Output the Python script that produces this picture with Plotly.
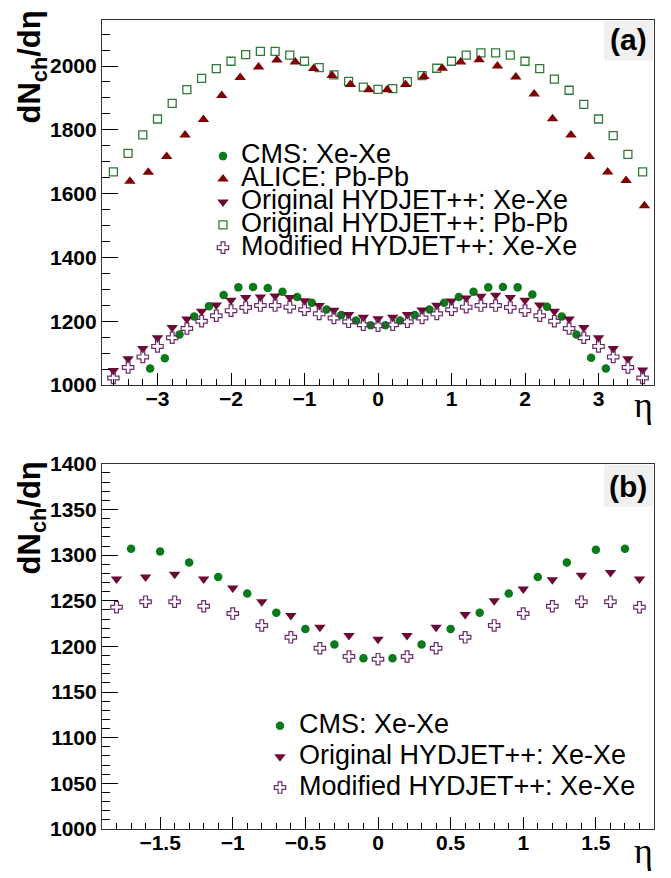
import plotly.graph_objects as go

# ---------------- data ----------------
eta_cms = [-3.1, -2.9, -2.7, -2.5, -2.3, -2.1, -1.9, -1.7, -1.5, -1.3, -1.1, -0.9, -0.7, -0.5, -0.3, -0.1,
           0.1, 0.3, 0.5, 0.7, 0.9, 1.1, 1.3, 1.5, 1.7, 1.9, 2.1, 2.3, 2.5, 2.7, 2.9, 3.1]
cms_xexe = [1052, 1084, 1158, 1215, 1247, 1282, 1306, 1307, 1304, 1292, 1276, 1258, 1237, 1219, 1202, 1187,
            1187, 1202, 1219, 1237, 1258, 1276, 1292, 1306, 1307, 1306, 1284, 1245, 1215, 1158, 1085, 1052]

eta_alice = [-3.375, -3.125, -2.875, -2.625, -2.375, -2.125, -1.875, -1.625, -1.375, -1.125, -0.875, -0.625,
             -0.375, -0.125, 0.125, 0.375, 0.625, 0.875, 1.125, 1.375, 1.625, 1.875, 2.125, 2.375, 2.625,
             2.875, 3.125, 3.375, 3.625]
alice_pbpb = [1639, 1667, 1716, 1784, 1832, 1908, 1964, 1997, 2019, 2013, 1992, 1970, 1942, 1926, 1926, 1942,
              1967, 1993, 2013, 2020, 2000, 1966, 1912, 1835, 1784, 1716, 1668, 1641, 1562]

eta_hyd = [-3.6, -3.4, -3.2, -3.0, -2.8, -2.6, -2.4, -2.2, -2.0, -1.8, -1.6, -1.4, -1.2, -1.0, -0.8, -0.6,
           -0.4, -0.2, 0.0, 0.2, 0.4, 0.6, 0.8, 1.0, 1.2, 1.4, 1.6, 1.8, 2.0, 2.2, 2.4, 2.6, 2.8, 3.0,
           3.2, 3.4, 3.6]
hyd_orig_pbpb = [1668, 1726, 1784, 1834, 1883, 1926, 1961, 1992, 2015, 2036, 2046, 2046, 2034, 2015, 1995, 1972,
                 1952, 1934, 1927, 1929, 1951, 1970, 1993, 2015, 2034, 2041, 2041, 2034, 2015, 1992, 1959, 1924,
                 1880, 1834, 1782, 1723, 1668]
hyd_orig_xexe = [1045, 1082, 1114, 1148, 1180, 1207, 1231, 1251, 1266, 1274, 1276, 1279, 1274, 1264, 1249, 1234,
                 1221, 1212, 1208, 1212, 1221, 1235, 1250, 1263, 1273, 1278, 1281, 1274, 1266, 1251, 1231, 1207,
                 1180, 1148, 1114, 1082, 1047]
hyd_mod_xexe = [1022, 1055, 1088, 1121, 1148, 1177, 1200, 1217, 1233, 1243, 1249, 1249, 1244, 1236, 1223, 1210,
                1198, 1189, 1186, 1189, 1198, 1210, 1223, 1236, 1244, 1249, 1249, 1243, 1233, 1217, 1200, 1177,
                1148, 1121, 1088, 1055, 1022]

labels_top = ["CMS: Xe-Xe", "ALICE: Pb-Pb", "Original HYDJET++: Xe-Xe",
              "Original HYDJET++: Pb-Pb", "Modified HYDJET++: Xe-Xe"]
labels_bot = ["CMS: Xe-Xe", "Original HYDJET++: Xe-Xe", "Modified HYDJET++: Xe-Xe"]

# ---------------- styles ----------------
W, H = 671, 878
C_CMS = "#0a7a1a"
C_ALICE = "#7f0000"
C_OX = "#6b0a36"
C_OP = "#2f7a3a"
C_MX = "#6a2a6a"

sty = {
    "cms": dict(symbol="circle", size=8.5, color=C_CMS, line=dict(width=0)),
    "alice": dict(symbol="triangle-up", size=10, color=C_ALICE, line=dict(width=0)),
    "ox": dict(symbol="triangle-down", size=10, color=C_OX, line=dict(width=0)),
    "op": dict(symbol="square-open", size=8, color=C_OP, line=dict(width=1.3, color=C_OP)),
    "mx": dict(symbol="cross-open", size=9.5, color=C_MX, line=dict(width=1.2, color=C_MX)),
}

def px2paper_x(px):
    return px / W

def px2paper_y(py):
    return 1 - py / H

fig = go.Figure()

def add(x, y, key, xa, ya, bound=None):
    if bound is not None:
        pts = [(a, b) for a, b in zip(x, y) if abs(a) < bound]
        x = [p[0] for p in pts]
        y = [p[1] for p in pts]
    fig.add_trace(go.Scatter(x=x, y=y, mode="markers", marker=sty[key], xaxis=xa, yaxis=ya,
                             showlegend=False, hoverinfo="skip"))

# top panel
add(eta_hyd, hyd_orig_pbpb, "op", "x", "y")
add(eta_alice, alice_pbpb, "alice", "x", "y")
add(eta_cms, cms_xexe, "cms", "x", "y")
add(eta_hyd, hyd_orig_xexe, "ox", "x", "y")
add(eta_hyd, hyd_mod_xexe, "mx", "x", "y")
# bottom panel
add(eta_cms, cms_xexe, "cms", "x2", "y2", bound=1.85)
add(eta_hyd, hyd_orig_xexe, "ox", "x2", "y2", bound=1.85)
add(eta_hyd, hyd_mod_xexe, "mx", "x2", "y2", bound=1.85)

# legend keys on an auxiliary pixel-space axis
leg_top_x, leg_top_y0, leg_top_dy = 223, 148, 23.5
leg_bot_x, leg_bot_y0, leg_bot_dy = 280, 733, 31.7
top_keys = ["cms", "alice", "ox", "op", "mx"]
bot_keys = ["cms", "ox", "mx"]
for i, k in enumerate(top_keys):
    fig.add_trace(go.Scatter(x=[leg_top_x], y=[leg_top_y0 + i * leg_top_dy], mode="markers",
                             marker=sty[k], xaxis="x3", yaxis="y3", showlegend=False, hoverinfo="skip"))
for i, k in enumerate(bot_keys):
    fig.add_trace(go.Scatter(x=[leg_bot_x], y=[leg_bot_y0 + i * leg_bot_dy], mode="markers",
                             marker=sty[k], xaxis="x3", yaxis="y3", showlegend=False, hoverinfo="skip"))

FONT = "Liberation Sans"
tickfont = dict(family=FONT, size=21, color="black", weight="bold")
FRAME = "#333333"

def xax(domain, rng, dtick, minor_dtick, anchor):
    return dict(domain=domain, range=rng, anchor=anchor, showgrid=False, zeroline=False,
                showline=True, mirror=True, linecolor=FRAME, linewidth=1.2,
                ticks="inside", ticklen=12, tickwidth=1, tickcolor="black", dtick=dtick, tick0=0,
                ticklabelstandoff=-5,
                tickfont=tickfont, minor=dict(dtick=minor_dtick, tick0=0, ticks="inside", ticklen=6,
                                              tickcolor="black", tickwidth=1, showgrid=False))

def yax(domain, rng, dtick, minor_dtick, anchor):
    return dict(domain=domain, range=rng, anchor=anchor, showgrid=False, zeroline=False,
                showline=True, mirror=True, linecolor=FRAME, linewidth=1.2,
                ticks="inside", ticklen=16, tickwidth=1, tickcolor="black", dtick=dtick, tick0=0,
                tickfont=tickfont, minor=dict(dtick=minor_dtick, tick0=0, ticks="inside", ticklen=8,
                                              tickcolor="black", tickwidth=1, showgrid=False))

xdom = [px2paper_x(102), px2paper_x(654)]
fig.update_layout(
    width=W, height=H, margin=dict(l=0, r=0, t=0, b=0),
    paper_bgcolor="white", plot_bgcolor="rgba(0,0,0,0)",
    xaxis=xax(xdom, [-3.755, 3.755], 1, 0.2, "y"),
    yaxis=yax([px2paper_y(383), px2paper_y(8)], [1000, 2145], 200, 50, "x"),
    xaxis2=xax(xdom, [-1.9, 1.9], 0.5, 0.1, "y2"),
    yaxis2=yax([px2paper_y(839), px2paper_y(464)], [1000, 1400], 50, 10, "x2"),
    xaxis3=dict(domain=[0, 1], range=[0, W], visible=False, anchor="y3", fixedrange=True),
    yaxis3=dict(domain=[0, 1], range=[H, 0], visible=False, anchor="x3", fixedrange=True),
)

ann = []
# legend text
for i, t in enumerate(labels_top):
    ann.append(dict(x=px2paper_x(239), y=px2paper_y(leg_top_y0 - 2 + i * leg_top_dy), xref="paper", yref="paper",
                    text=t, showarrow=False, xanchor="left", yanchor="middle",
                    font=dict(family=FONT, size=27, color="black")))
for i, t in enumerate(labels_bot):
    ann.append(dict(x=px2paper_x(297), y=px2paper_y(leg_bot_y0 - 2 + i * leg_bot_dy), xref="paper", yref="paper",
                    text=t, showarrow=False, xanchor="left", yanchor="middle",
                    font=dict(family=FONT, size=27, color="black")))
# y titles
for yc in (57, 520):
    ann.append(dict(x=px2paper_x(32), y=px2paper_y(yc), xref="paper", yref="paper",
                    text="<b>dN<sub>ch</sub>/dη</b>", textangle=-90, showarrow=False,
                    xanchor="center", yanchor="middle", font=dict(family=FONT, size=31, color="black")))
# x titles
for yc in (404, 862):
    ann.append(dict(x=px2paper_x(643), y=px2paper_y(yc), xref="paper", yref="paper",
                    text="η", showarrow=False, xanchor="center", yanchor="middle",
                    font=dict(family="Liberation Serif", size=36, color="black")))
# panel labels
for lab, yc in (("(a)", 28), ("(b)", 487)):
    ann.append(dict(x=px2paper_x(628), y=px2paper_y(yc), xref="paper", yref="paper",
                    text="<b>" + lab + "</b>", showarrow=False, xanchor="center", yanchor="middle",
                    font=dict(family=FONT, size=30, color="black")))
fig.update_layout(annotations=ann)

shapes = []
for y0, y1 in ((9, 50), (465, 508)):
    shapes.append(dict(type="rect", xref="paper", yref="paper", layer="below",
                       x0=px2paper_x(604), x1=px2paper_x(653), y0=px2paper_y(y1), y1=px2paper_y(y0),
                       fillcolor="#f0f0f0", line=dict(width=0)))
fig.update_layout(shapes=shapes)

fig.write_html("out.html")
